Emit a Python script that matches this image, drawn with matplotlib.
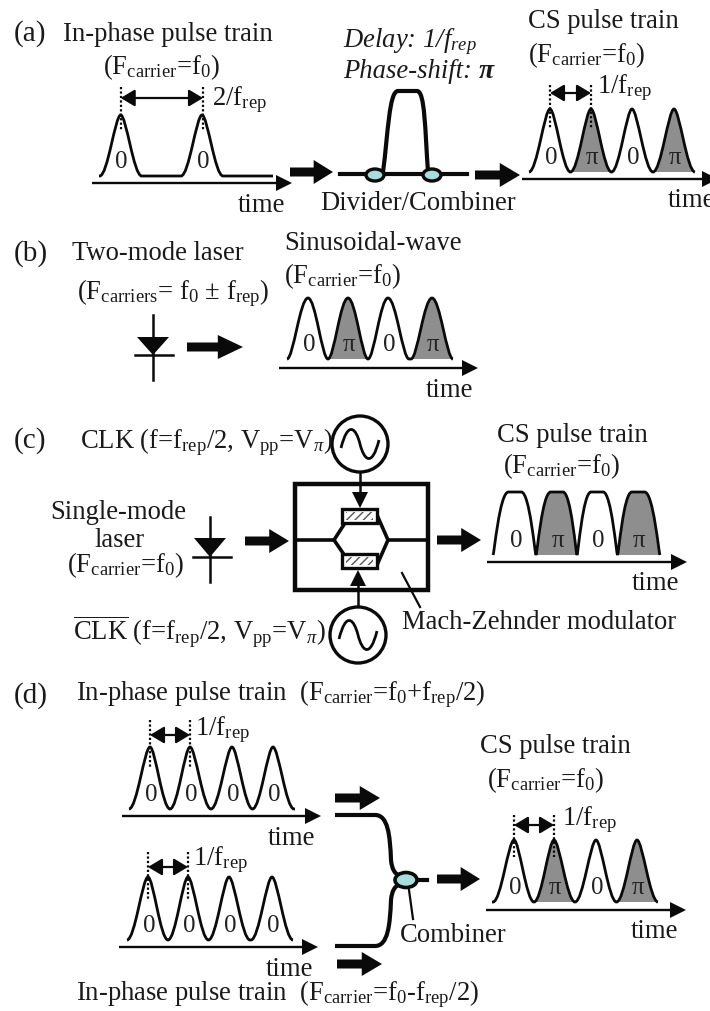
import matplotlib
matplotlib.use("Agg")
import matplotlib.pyplot as plt
from matplotlib.path import Path
from matplotlib.patches import PathPatch, Polygon, Circle, Ellipse, Rectangle, FancyArrowPatch

plt.rcParams.update({
    "font.family": ["Liberation Serif", "DejaVu Serif"],
    "mathtext.fontset": "custom",
    "mathtext.rm": "Liberation Serif",
    "mathtext.it": "Liberation Serif:italic",
    "mathtext.bf": "Liberation Serif:bold",
    "hatch.linewidth": 1.0,
})

FCARRIER = r"(F$_{\mathrm{carrier}}$=f$_0$)"
FREP1 = r"1/f$_{\mathrm{rep}}$"
FREP2 = r"2/f$_{\mathrm{rep}}$"
FS = 19.2

# text labels: string, left x, baseline y, size
labels = [
    ("(a)", 14, 41, 21), ("In-phase pulse train", 63, 41, FS),
    (FCARRIER, 103, 74, FS), (FREP2, 212, 105, FS), ("time", 238, 212, FS),
    ("Divider/Combiner", 320, 210, FS), ("CS pulse train", 528, 28, FS),
    (FCARRIER, 528, 62, FS), (FREP1, 597, 93, FS), ("time", 668, 207, FS),
    ("(b)", 14, 261, 21), ("Two-mode laser", 72, 260, FS),
    (r"(F$_{\mathrm{carriers}}$= f$_0$ $\pm$ f$_{\mathrm{rep}}$)", 77, 299, FS),
    ("Sinusoidal-wave", 284, 250, FS), (FCARRIER, 284, 283, FS), ("time", 426, 397, FS),
    ("(c)", 14, 448, 21),
    (r"CLK (f=f$_{\mathrm{rep}}$/2, V$_{\mathrm{pp}}$=V$_{\mathit{\pi}}$)", 80, 448, FS),
    (r"$\overline{\mathrm{CLK}}$ (f=f$_{\mathrm{rep}}$/2, V$_{\mathrm{pp}}$=V$_{\mathit{\pi}}$)", 73, 640, FS),
    ("Single-mode", 50, 519, FS), ("laser", 94, 547, FS), (FCARRIER, 67, 572, FS),
    ("CS pulse train", 497, 442, FS), (FCARRIER, 503, 473, FS), ("time", 632, 590, FS),
    ("Mach-Zehnder modulator", 402, 629, FS),
    ("(d)", 14, 703, 21),
    (r"In-phase pulse train  (F$_{\mathrm{carrier}}$=f$_0$+f$_{\mathrm{rep}}$/2)", 76, 700, FS),
    (FREP1, 195, 735, FS), ("time", 268, 845, FS),
    (FREP1, 193, 865, FS), ("time", 266, 976, FS),
    (r"In-phase pulse train  (F$_{\mathrm{carrier}}$=f$_0$-f$_{\mathrm{rep}}$/2)", 76, 1000, FS),
    ("Combiner", 400, 942, FS), ("CS pulse train", 480, 753, FS), (FCARRIER, 487, 787, FS),
    (FREP1, 562, 825, FS), ("time", 631, 938, FS),
]
italic_labels = [(r"Delay: 1/$\mathit{f}_{\mathit{rep}}$", 343, 47, FS),
                 ("Phase-shift: ", 343, 78, FS)]

# pulse shape kinds: base control, top control, half flat top (fractions of half width)
NARROW = (0.62, 0.26, 0.0)
SINE = (0.70, 0.38, 0.0)
FLAT = (0.95, 0.70, 0.30)

# pulse trains
trains = [
    dict(c=[120.7, 202], peak=115, base=176, hw=21, x0=99, x1=273, ay=183, a0=92, a1=292,
         ph=["0", "0"], kind=NARROW),
    dict(c=[550, 591, 632, 674], peak=109, base=172, hw=21, x0=529, x1=695, ay=179, a0=522, a1=718,
         ph=["0", "π", "0", "π"], kind=NARROW),
    dict(c=[308, 348, 388, 432], peak=298, base=359, hw=21, x0=287, x1=453, ay=368, a0=279, a1=478,
         ph=["0", "π", "0", "π"], kind=SINE),
    dict(c=[515, 557, 597, 638], peak=492, base=555, hw=22, x0=493, x1=660, ay=562, a0=487, a1=687,
         ph=["0", "π", "0", "π"], kind=FLAT),
    dict(c=[150, 190, 232, 273], peak=747, base=809, hw=21, x0=129, x1=295, ay=816, a0=122, a1=321,
         ph=["0", "0", "0", "0"], kind=NARROW),
    dict(c=[148, 188, 229, 272], peak=877, base=940, hw=21, x0=127, x1=293, ay=947, a0=119, a1=318,
         ph=["0", "0", "0", "0"], kind=NARROW),
    dict(c=[514, 554, 596, 637], peak=840, base=902, hw=21, x0=492, x1=658, ay=910, a0=486, a1=686,
         ph=["0", "π", "0", "π"], kind=NARROW),
]
# spacing markers: x left, x right, arrow y, dotted top y, dotted bottom y
spacings = [(120.7, 203, 98, 87, 130), (550, 591, 93, 85, 128), (150, 190, 735, 720, 767),
            (148, 188, 867, 852, 900), (514, 554, 825, 815, 857)]
# block arrows: x0, x1, y
block_arrows = [(290, 333, 172), (475, 520, 175), (187, 243, 347), (245, 289, 541),
                (437, 481, 540), (335, 380, 798), (337, 382, 964), (437, 480, 879)]

fig = plt.figure(figsize=(7.10, 10.11), dpi=100)
ax = fig.add_axes([0, 0, 1, 1])
ax.set_xlim(0, 710)
ax.set_ylim(1011, 0)
ax.axis("off")
K = "#0a0a0a"
TXT = "#1a1a1a"
GRAY = "#8e8e8e"
CYAN = "#a9dcdc"


def draw_train(t):
    base, peak, hw = t["base"], t["peak"], t["hw"]
    k1, k2, f = t["kind"]
    cs = t["c"]
    verts = [(t["x0"], base)]
    codes = [Path.MOVETO]
    for i, c in enumerate(cs):
        left = c - hw if i == 0 else max(c - hw, (cs[i - 1] + c) / 2)
        right = c + hw if i == len(cs) - 1 else min(c + hw, (cs[i + 1] + c) / 2)
        wl, wr = c - left, right - c
        pv = [(left, base), (c - wl * k1, base), (c - wl * k2, peak), (c - wl * f, peak),
              (c + wr * f, peak), (c + wr * k2, peak), (c + wr * k1, base), (right, base)]
        pc = [Path.LINETO, Path.CURVE4, Path.CURVE4, Path.CURVE4,
              Path.LINETO, Path.CURVE4, Path.CURVE4, Path.CURVE4]
        if t["ph"][i] == "π":
            g = Path(pv + [pv[0]], [Path.MOVETO] + pc[1:] + [Path.CLOSEPOLY])
            ax.add_patch(PathPatch(g, fc=GRAY, ec="none", zorder=1))
        verts += pv
        codes += pc
        ax.text(c + 1, base - 8, t["ph"][i], fontsize=18, ha="center", va="baseline",
                color="#222222", zorder=4)
    verts.append((t["x1"], base))
    codes.append(Path.LINETO)
    ax.add_patch(PathPatch(Path(verts, codes), fc="none", ec=K, lw=2.0, zorder=3))
    ax.plot([t["a0"], t["a1"] - 12], [t["ay"], t["ay"]], color=K, lw=1.7, zorder=3,
            solid_capstyle="butt")
    ax.add_patch(Polygon([(t["a1"] - 16, t["ay"] - 8), (t["a1"], t["ay"]), (t["a1"] - 16, t["ay"] + 8)],
                         fc=K, ec="none", zorder=3))


def block_arrow(x0, x1, y):
    h = x0 + (x1 - x0) * 0.55
    ax.add_patch(Polygon([(x0, y - 4.5), (h, y - 4.5), (h, y - 12), (x1, y), (h, y + 12),
                          (h, y + 4.5), (x0, y + 4.5)], fc=K, ec="none", zorder=3))


def diode(x, top, bottom, tri_top, tip, half, bar_y, bar0, bar1):
    ax.plot([x, x], [top, bottom], color=K, lw=1.8)
    ax.plot([bar0, bar1], [bar_y, bar_y], color=K, lw=1.8)
    ax.add_patch(Polygon([(x - half, tri_top), (x + half, tri_top), (x, tip)], fc=K, ec="none"))


def source(cx, cy, r=28):
    ax.add_patch(Circle((cx, cy), r, fc="white", ec=K, lw=2.4, zorder=3))
    s = Path([(cx - 19, cy + 4), (cx - 12, cy - 24), (cx - 4, cy - 16), (cx, cy),
              (cx + 4, cy + 16), (cx + 12, cy + 24), (cx + 19, cy - 4)],
             [Path.MOVETO] + [Path.CURVE4] * 6)
    ax.add_patch(PathPatch(s, fc="none", ec=K, lw=2.0, zorder=4))


for t in trains:
    draw_train(t)

for x0, x1, y, top, bot in spacings:
    for x in (x0, x1):
        ax.plot([x, x], [top, bot], color=K, lw=1.6, ls=(0, (1, 1)), zorder=5)
    ax.add_patch(FancyArrowPatch((x0, y), (x1, y), arrowstyle="<|-|>,head_length=0.5,head_width=0.3",
                                 mutation_scale=17, lw=1.6, color=K, shrinkA=0, shrinkB=0, zorder=5))

for a in block_arrows:
    block_arrow(*a)

# (a) delay interferometer
ax.plot([340, 467], [174, 174], color=K, lw=3.0, zorder=2)
bump = Path([(383, 172), (388, 135), (389, 91), (398, 91), (417, 91), (425, 91), (425, 130), (428, 172)],
            [Path.MOVETO, Path.CURVE4, Path.CURVE4, Path.CURVE4, Path.LINETO, Path.CURVE4, Path.CURVE4, Path.CURVE4])
ax.add_patch(PathPatch(bump, fc="none", ec=K, lw=3.0, zorder=2))
for x in (375, 432):
    ax.add_patch(Ellipse((x, 175), 18, 12, fc=CYAN, ec=K, lw=2.4, zorder=3))

# (b) and (c) lasers
diode(153, 315, 380, 337, 355, 16, 355, 135, 173)
diode(210, 517, 582, 538, 557, 16, 557, 193, 231)

# (c) Mach-Zehnder modulator
ax.add_patch(Rectangle((295, 484), 133, 106, fc="none", ec=K, lw=3.2))
for xs, ys in [([295, 334, 345], [540, 540, 523]), ([334, 345], [540, 556]),
               ([390, 428], [540, 540]), ([377, 388, 377], [515, 540, 565])]:
    ax.plot(xs, ys, color=K, lw=2.6, solid_joinstyle="miter")
for y in (509, 554):
    ax.add_patch(Rectangle((342, y), 35, 14, fc="white", ec=K, lw=2.4, zorder=3))
    ax.add_patch(Rectangle((346, y + 3), 27, 8, fc="white", ec="#555555", lw=0, hatch="////", zorder=4))
source(360, 444)
source(358, 635)
ax.plot([360, 360], [471, 495], color=K, lw=1.8)
ax.add_patch(Polygon([(352, 492), (368, 492), (360, 508)], fc=K, ec="none", zorder=5))
ax.plot([358, 358], [607, 582], color=K, lw=1.8)
ax.add_patch(Polygon([(350, 586), (366, 586), (358, 570)], fc=K, ec="none", zorder=5))
ax.plot([402, 420], [573, 607], color=K, lw=1.6)

# (d) combiner
top_guide = Path([(335, 815), (375, 815), (388, 815), (390, 835), (391, 860), (392, 870), (395, 873), (398, 875)],
                 [Path.MOVETO, Path.LINETO, Path.CURVE4, Path.CURVE4, Path.CURVE4, Path.CURVE4, Path.CURVE4, Path.CURVE4])
bot_guide = Path([(335, 946), (375, 946), (388, 946), (390, 925), (391, 900), (392, 890), (395, 887), (398, 885)],
                 [Path.MOVETO, Path.LINETO, Path.CURVE4, Path.CURVE4, Path.CURVE4, Path.CURVE4, Path.CURVE4, Path.CURVE4])
ax.add_patch(PathPatch(top_guide, fc="none", ec=K, lw=3.0))
ax.add_patch(PathPatch(bot_guide, fc="none", ec=K, lw=3.0))
ax.plot([412, 427], [880, 880], color=K, lw=3.0)
ax.add_patch(Ellipse((406, 880), 22, 15, fc=CYAN, ec=K, lw=2.6, zorder=3))
ax.plot([409, 413], [890, 919], color=K, lw=1.6)

for s, x, y, fs in labels:
    ax.text(x, y, s, fontsize=fs, ha="left", va="baseline", color=TXT, zorder=6)
for s, x, y, fs in italic_labels:
    ax.text(x, y, s, fontsize=fs, style="italic", ha="left", va="baseline", color=TXT, zorder=6)
ax.text(479, 78, "π", fontsize=20, style="italic", weight="bold", ha="left", va="baseline", color=TXT)

fig.savefig("out.png", dpi=100)
